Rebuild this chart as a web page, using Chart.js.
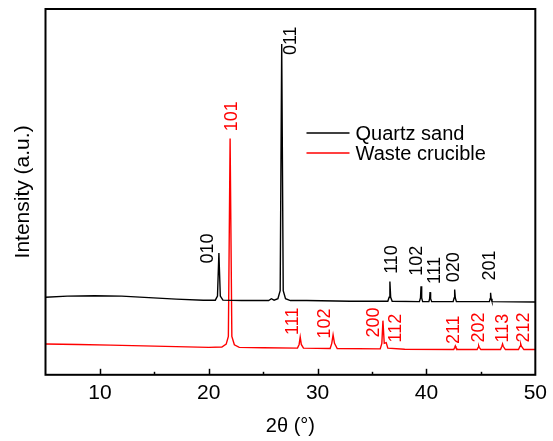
<!DOCTYPE html>
<html>
<head>
<meta charset="utf-8">
<script src="https://cdn.jsdelivr.net/npm/chart.js@4.4.1/dist/chart.umd.min.js"></script>
<style>
  html, body { margin: 0; padding: 0; background: #fff; }
  #wrap { width: 553px; height: 441px; }
</style>
</head>
<body>
<div id="wrap"><canvas id="xrd"></canvas></div>
<script>
// 2θ (deg) and offset intensity (a.u.)
const quartzTheta = [5, 7, 9.5, 12, 14.5, 17, 19.5, 20.6, 20.8, 20.93, 21.06, 21.3, 23, 25.5, 25.75, 26.0, 26.35, 26.56, 26.70, 26.84, 27.05, 27.5, 29, 33, 36.45, 36.57, 36.64, 36.71, 36.85, 39.35, 39.45, 39.5, 39.56, 39.65, 40.22, 40.29, 40.33, 40.38, 40.48, 42.45, 42.54, 42.59, 42.65, 42.75, 45.78, 45.85, 45.89, 45.94, 46.02, 50];
const quartzInt = [21.2, 21.5, 21.6, 21.5, 21.1, 20.7, 20.4, 20.4, 21.5, 33.3, 21.5, 20.4, 20.3, 20.3, 20.8, 20.4, 20.8, 23.0, 90.4, 23.0, 20.8, 20.3, 20.3, 20.1, 20.1, 21.2, 25.5, 21.2, 20.1, 20.0, 21.0, 24.2, 21.0, 20.0, 20.0, 20.8, 22.6, 20.8, 20.0, 20.0, 21.0, 23.3, 21.0, 20.0, 20.0, 20.8, 22.4, 20.8, 20.0, 19.9];

const crucibleTheta = [5, 8, 11, 14, 17, 20, 21.2, 21.6, 21.8, 21.96, 22.12, 22.35, 22.8, 25, 28.15, 28.3, 28.4, 28.5, 28.7, 31.15, 31.3, 31.42, 31.55, 31.8, 35.75, 35.9, 36.0, 36.12, 36.3, 36.45, 38, 42.5, 42.6, 42.65, 42.7, 42.85, 44.65, 44.75, 44.8, 44.85, 45.0, 46.8, 46.93, 46.99, 47.05, 47.25, 48.45, 48.6, 48.66, 48.72, 48.95, 50];
const crucibleInt = [8.4, 8.3, 8.1, 7.9, 7.7, 7.5, 7.6, 8.4, 10.5, 64.6, 10.5, 8.2, 7.5, 7.4, 7.3, 8.3, 10.3, 8.3, 7.3, 7.2, 8.6, 10.9, 8.6, 7.2, 7.1, 8.6, 14.8, 8.6, 8.8, 7.3, 7.0, 6.9, 7.5, 7.9, 7.5, 6.9, 6.9, 7.5, 7.9, 7.5, 6.9, 6.9, 7.8, 8.4, 7.8, 6.9, 6.9, 7.8, 8.4, 7.8, 6.9, 6.9];

// peak indices and where their labels start (2θ, intensity)
const quartzHkl = ['010', '011', '110', '102', '111', '020', '201'];
const quartzHklTheta = [19.97, 27.57, 36.85, 39.14, 40.76, 42.56, 45.86];
const quartzHklInt = [30.4, 87.4, 27.6, 27.1, 24.8, 25.3, 25.8];

const crucibleHkl = ['101', '111', '102', '200', '112', '211', '202', '113', '212'];
const crucibleHklTheta = [22.17, 27.78, 30.69, 35.17, 37.16, 42.5, 44.85, 46.99, 48.97];
const crucibleHklInt = [66.6, 10.9, 9.9, 10.2, 8.85, 8.4, 8.85, 8.85, 8.85];

const xTicks = [10, 15, 20, 25, 30, 35, 40, 45, 50];

const FONT = "'Liberation Sans', Arial, sans-serif";
const BLACK = '#000000';
const RED = '#ff0000';

const toPoints = (xs, ys) => xs.map((x, i) => ({ x: x, y: ys[i] }));

// frame, inward ticks, peak labels and the in-plot legend
const decorations = {
  id: 'decorations',
  afterDraw(chart) {
    const { ctx, chartArea: a, scales } = chart;
    const sx = scales.x, sy = scales.y;
    ctx.save();

    ctx.strokeStyle = BLACK;
    ctx.lineWidth = 2;
    ctx.strokeRect(a.left, a.top, a.right - a.left, a.bottom - a.top);

    ctx.lineWidth = 1.5;
    xTicks.forEach(v => {
      if (v >= sx.max) return;
      const px = Math.round(sx.getPixelForValue(v)) + 0.5;
      const len = v % 10 === 0 ? 6 : 3;
      ctx.beginPath();
      ctx.moveTo(px, a.bottom);
      ctx.lineTo(px, a.bottom - len);
      ctx.stroke();
    });

    ctx.font = '18px ' + FONT;
    ctx.textAlign = 'left';
    ctx.textBaseline = 'middle';
    const drawLabels = (names, xs, ys, color) => {
      ctx.fillStyle = color;
      names.forEach((t, i) => {
        ctx.save();
        ctx.translate(sx.getPixelForValue(xs[i]), sy.getPixelForValue(ys[i]));
        ctx.rotate(-Math.PI / 2);
        ctx.fillText(t, 0, 0);
        ctx.restore();
      });
    };
    drawLabels(quartzHkl, quartzHklTheta, quartzHklInt, BLACK);
    drawLabels(crucibleHkl, crucibleHklTheta, crucibleHklInt, RED);

    // legend
    ctx.font = '20px ' + FONT;
    chart.data.datasets.forEach((ds, i) => {
      const y = a.top + 124 + i * 20;
      ctx.strokeStyle = ds.borderColor;
      ctx.lineWidth = 1.5;
      ctx.beginPath();
      ctx.moveTo(a.left + 261, y);
      ctx.lineTo(a.left + 304, y);
      ctx.stroke();
      ctx.fillStyle = BLACK;
      ctx.fillText(ds.label, a.left + 310, y + 1);
    });

    ctx.restore();
  }
};

new Chart(document.getElementById('xrd'), {
  type: 'line',
  data: {
    datasets: [
      {
        label: 'Quartz sand',
        data: toPoints(quartzTheta, quartzInt),
        borderColor: BLACK,
        borderWidth: 1.4,
      },
      {
        label: 'Waste crucible',
        data: toPoints(crucibleTheta, crucibleInt),
        borderColor: RED,
        borderWidth: 1.4,
      },
    ],
  },
  options: {
    responsive: true,
    maintainAspectRatio: false,
    animation: false,
    devicePixelRatio: 1,
    elements: {
      point: { radius: 0 },
      line: { tension: 0 },
    },
    layout: { padding: { left: 8, right: 16, top: 9, bottom: 0 } },
    plugins: {
      legend: { display: false },
      tooltip: { enabled: false },
    },
    scales: {
      x: {
        type: 'linear',
        min: 5,
        max: 50,
        afterBuildTicks: s => { s.ticks = xTicks.map(v => ({ value: v })); },
        ticks: {
          callback: v => (v % 10 === 0 ? String(v) : ''),
          font: { family: FONT, size: 21 },
          color: BLACK,
          padding: 6,
          maxRotation: 0,
          autoSkip: false,
        },
        grid: { display: false, drawTicks: false },
        border: { display: false },
        title: {
          display: true,
          text: '2θ (°)',
          color: BLACK,
          font: { family: FONT, size: 20, lineHeight: 1 },
          padding: { top: 4, bottom: 5 },
        },
      },
      y: {
        min: 0,
        max: 100,
        ticks: { display: false },
        grid: { display: false, drawTicks: false },
        border: { display: false },
        title: {
          display: true,
          text: 'Intensity (a.u.)',
          color: BLACK,
          font: { family: FONT, size: 21, lineHeight: 1 },
          padding: { top: 5, bottom: 11.5 },
        },
      },
    },
  },
  plugins: [decorations],
});
</script>
</body>
</html>
